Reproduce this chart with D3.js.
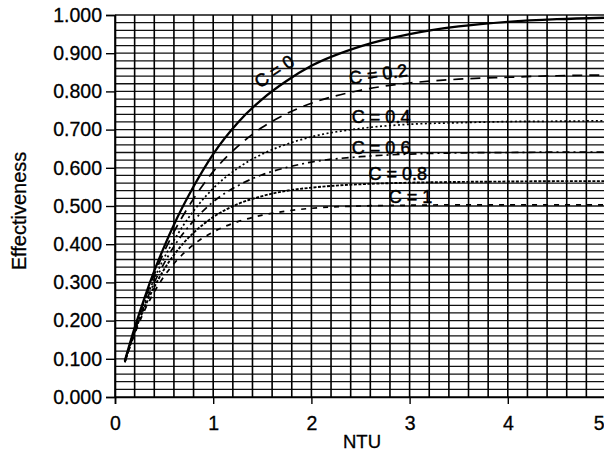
<!DOCTYPE html>
<html><head><meta charset="utf-8">
<script src="https://cdn.jsdelivr.net/npm/d3@7"></script>
<style>body{margin:0;background:#fff;} svg{display:block;}</style>
</head><body><svg id="c" width="604" height="460"></svg>
<script>
// NTU sample points and effectiveness
const ntu    = [0.1, 0.2, 0.3, 0.4, 0.5, 0.6, 0.8, 1.0, 1.25, 1.5, 1.75, 2.0, 2.5, 3.0, 3.5, 4.0, 4.5, 5.0];
const effC0  = [0.095,0.181,0.259,0.330,0.393,0.451,0.551,0.636,0.718,0.780,0.828,0.867,0.918,0.950,0.970,0.982,0.989,0.993];
const effC02 = [0.094,0.178,0.253,0.320,0.380,0.432,0.519,0.590,0.656,0.706,0.742,0.769,0.803,0.822,0.832,0.837,0.841,0.843];
const effC04 = [0.093,0.174,0.246,0.309,0.364,0.410,0.487,0.546,0.599,0.636,0.662,0.681,0.703,0.714,0.718,0.721,0.722,0.723];
const effC06 = [0.092,0.172,0.240,0.300,0.350,0.394,0.461,0.511,0.553,0.582,0.601,0.615,0.629,0.636,0.639,0.640,0.641,0.641];
const effC08 = [0.091,0.169,0.234,0.288,0.334,0.372,0.430,0.471,0.505,0.526,0.540,0.548,0.557,0.561,0.563,0.564,0.565,0.565];
const effC1  = [0.091,0.165,0.226,0.275,0.316,0.349,0.399,0.432,0.459,0.476,0.487,0.494,0.500,0.502,0.503,0.503,0.503,0.503];

const seriesNames = ["C = 0", "C = 0.2", "C = 0.4", "C = 0.6", "C = 0.8", "C = 1"];
const seriesVals  = [effC0, effC02, effC04, effC06, effC08, effC1];
// label anchor positions (NTU, effectiveness) and rotation
const labelNtu = [1.62, 2.68, 2.71, 2.71, 2.88, 3.01];
const labelEff = [0.853, 0.846, 0.733, 0.654, 0.586, 0.526];
const labelRot = [-34, -8, 0, 0, 0, 0];

const xTicks = [0, 1, 2, 3, 4, 5];
const yTicks = [0, 0.1, 0.2, 0.3, 0.4, 0.5, 0.6, 0.7, 0.8, 0.9, 1.0];
const xGrid = d3.range(0, 26).map(i => i * 0.2);
const yGrid = d3.range(0, 51).map(i => i * 0.02);

const dashes = [null, "10,7", "2,2.5", "7,4,2,4", "3,1.5", "5,6"];
const widths = [2.3, 1.7, 1.7, 1.7, 1.9, 1.7];

const svg = d3.select("#c");
const font = "'Liberation Sans', Arial, sans-serif";
const x = d3.scaleLinear().domain([0, 5]).range([115, 606]);
const y = d3.scaleLinear().domain([0, 1]).range([397, 15]);

// grid
const g = svg.append("g");
g.selectAll("line.h").data(yGrid).join("line")
  .attr("x1", x(0)).attr("x2", x(5))
  .attr("y1", d => y(d)).attr("y2", d => y(d))
  .attr("stroke", "#111").attr("stroke-width", 1.3);
g.selectAll("line.v").data(xGrid).join("line")
  .attr("y1", y(0)).attr("y2", y(1))
  .attr("x1", d => x(d)).attr("x2", d => x(d))
  .attr("stroke", "#000").attr("stroke-width", 1.6);

// axes
const yAxis = d3.axisLeft(y).tickValues(yTicks).tickFormat(d3.format(".3f")).tickSize(9).tickPadding(4);
const ya = svg.append("g").attr("transform", `translate(${x(0)},0)`).call(yAxis);
const xAxis = d3.axisBottom(x).tickValues(xTicks).tickFormat(d3.format("d")).tickSize(7).tickPadding(12);
const xa = svg.append("g").attr("transform", `translate(0,${y(0)})`).call(xAxis);
[ya, xa].forEach(a => {
  a.select(".domain").attr("stroke", "#000").attr("stroke-width", 1.6);
  a.selectAll(".tick line").attr("stroke", "#000").attr("stroke-width", 1.4);
  a.selectAll(".tick text").attr("fill", "#000").attr("font-family", font)
    .attr("font-size", 19.5).attr("stroke", "#000").attr("stroke-width", 0.3);
});
// last x label sits at the right edge: keep it inside the page
xa.selectAll(".tick text").filter(d => d === 5).attr("text-anchor", "end").attr("dx", "-0.1em");

// curves
const line = d3.line().x(d => x(d[0])).y(d => y(d[1])).curve(d3.curveMonotoneX);
seriesVals.forEach((vals, i) => {
  svg.append("path")
    .datum(ntu.map((n, k) => [n, vals[k]]))
    .attr("d", line)
    .attr("fill", "none")
    .attr("stroke", "#000")
    .attr("stroke-width", widths[i])
    .attr("stroke-dasharray", dashes[i]);
});

// curve labels
seriesNames.forEach((name, i) => {
  svg.append("text")
    .attr("transform", `translate(${x(labelNtu[i])},${y(labelEff[i])}) rotate(${labelRot[i]})`)
    .attr("text-anchor", "middle").attr("dy", "0.36em")
    .attr("font-family", font).attr("font-size", 18)
    .attr("fill", "#000").attr("stroke", "#000").attr("stroke-width", 0.5)
    .text(name);
});

// axis titles
svg.append("text").attr("x", 362).attr("y", 448).attr("text-anchor", "middle")
  .attr("font-family", font).attr("font-size", 18.5).attr("fill", "#000")
  .attr("stroke", "#000").attr("stroke-width", 0.3).text("NTU");
svg.append("text").attr("transform", "translate(26,211) rotate(-90)").attr("text-anchor", "middle")
  .attr("font-family", font).attr("font-size", 20).attr("fill", "#000")
  .attr("stroke", "#000").attr("stroke-width", 0.3).text("Effectiveness");
</script></body></html>
